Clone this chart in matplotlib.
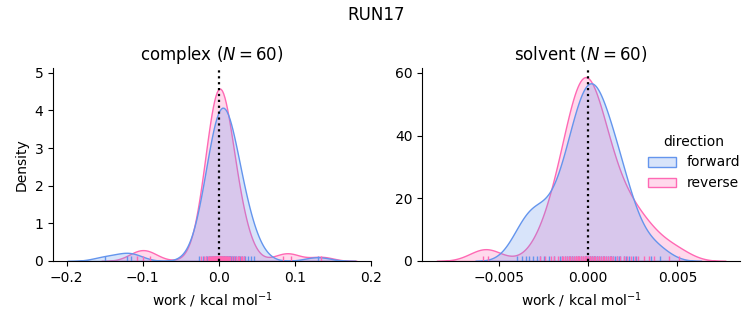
import matplotlib
matplotlib.use("Agg")
import matplotlib.pyplot as plt
import pandas as pd
import seaborn as sns

complex_forward = [
    -0.149, -0.120, -0.115, 0.130,
    -0.026, -0.021, -0.017, -0.015, -0.013, -0.012, -0.010, -0.009,
    -0.008, -0.007, -0.006, -0.005, -0.005, -0.004, -0.003, -0.002,
    -0.001, -0.001, 0.000, 0.001, 0.001, 0.002, 0.003, 0.003,
    0.003, 0.004, 0.005, 0.005, 0.006, 0.007, 0.007, 0.008,
    0.009, 0.010, 0.011, 0.011, 0.012, 0.013, 0.014, 0.015,
    0.015, 0.016, 0.017, 0.019, 0.020, 0.022, 0.023, 0.025,
    0.027, 0.028, 0.031, 0.033, 0.035, 0.039, 0.043, 0.047,
]
complex_reverse = [
    -0.108, -0.100, -0.090, 0.085, 0.095, 0.135,
    -0.019, -0.017, -0.014, -0.013, -0.011, -0.010,
    -0.009, -0.008, -0.008, -0.007, -0.006, -0.005,
    -0.005, -0.004, -0.003, -0.003, -0.003, -0.002,
    -0.002, -0.001, -0.001, 0.000, 0.000, 0.000,
    0.001, 0.001, 0.002, 0.002, 0.003, 0.003,
    0.003, 0.003, 0.004, 0.005, 0.005, 0.006,
    0.007, 0.008, 0.008, 0.009, 0.010, 0.011,
    0.012, 0.014, 0.015, 0.017, 0.020, 0.023,
    0.025, 0.027, 0.029, 0.031, 0.033, -0.023,
]
solvent_forward = [
    -0.0040, -0.0037, -0.0035, -0.0033, -0.0031, -0.0029, -0.0027, -0.0025, 0.0035, 0.0040,
    -0.0022, -0.0019, -0.0016, -0.0015, -0.0013, -0.0012, -0.0011, -0.0010, -0.0009, -0.0009,
    -0.0008, -0.0007, -0.0006, -0.0005, -0.0004, -0.0003, -0.0002, -0.0001, -0.0001, 0.0000,
    0.0001, 0.0001, 0.0002, 0.0002, 0.0003, 0.0003, 0.0004, 0.0005, 0.0005, 0.0006,
    0.0007, 0.0008, 0.0009, 0.0010, 0.0011, 0.0012, 0.0013, 0.0013, 0.0014, 0.0015,
    0.0016, 0.0017, 0.0018, 0.0020, 0.0021, 0.0023, 0.0025, 0.0027, -0.0001, 0.0000,
]
solvent_reverse = [
    -0.0059, -0.0056, -0.0027, -0.0024, -0.0021, -0.0019, -0.0017, -0.0015, -0.0014, -0.0013,
    -0.0012, -0.0011, -0.0010, -0.0009, -0.0008, -0.0007, -0.0007, -0.0007, -0.0006, -0.0006,
    -0.0005, -0.0004, -0.0004, -0.0003, -0.0003, -0.0002, -0.0002, -0.0001, -0.0001, 0.0000,
    0.0000, 0.0001, 0.0001, 0.0002, 0.0002, 0.0003, 0.0004, 0.0005, 0.0006, 0.0006,
    0.0007, 0.0008, 0.0009, 0.0010, 0.0011, 0.0012, 0.0013, 0.0014, 0.0016, 0.0018,
    0.0020, 0.0022, 0.0024, 0.0028, 0.0031, 0.0034, 0.0037, 0.0045, 0.0051, 0.0026,
]

phases = ["complex", "solvent"]
directions = ["forward", "reverse"]
colors = {"forward": "cornflowerblue", "reverse": "hotpink"}
y_top = {"complex": 5.13, "solvent": 61.6}

data = {
    ("complex", "forward"): complex_forward,
    ("complex", "reverse"): complex_reverse,
    ("solvent", "forward"): solvent_forward,
    ("solvent", "reverse"): solvent_reverse,
}

rows = []
for (phase, d), vals in data.items():
    for v in vals:
        rows.append((phase, d, v))
df = pd.DataFrame(rows, columns=["phase", "direction", "work"])

g = sns.displot(df, x="work", hue="direction", col="phase", kind="kde",
                fill=True, rug=True, palette=colors, hue_order=directions,
                col_order=phases, facet_kws=dict(sharex=False, sharey=False))

for ax, phase in zip(g.axes.flat, phases):
    n = len(data[(phase, "forward")])
    ax.set_title(f"{phase} ($N={n}$)", fontsize=12)
    ax.axvline(0, color="k", ls=":", lw=1.6)
    ax.set_xlabel("work / kcal mol$^{-1}$")
    ax.set_ylim(0, y_top[phase])

g.axes.flat[0].set_ylabel("Density")
g.axes.flat[0].set_xticks([-0.2, -0.1, 0.0, 0.1, 0.2])
g.axes.flat[1].set_xticks([-0.005, 0.0, 0.005])

fig = g.figure
fig.set_size_inches(7.53, 3.25)
fig.subplots_adjust(left=0.0704, right=0.983, bottom=0.197, top=0.791, wspace=0.16)
fig.suptitle("RUN17", fontsize=12)

fig.savefig("out.png", dpi=100)
